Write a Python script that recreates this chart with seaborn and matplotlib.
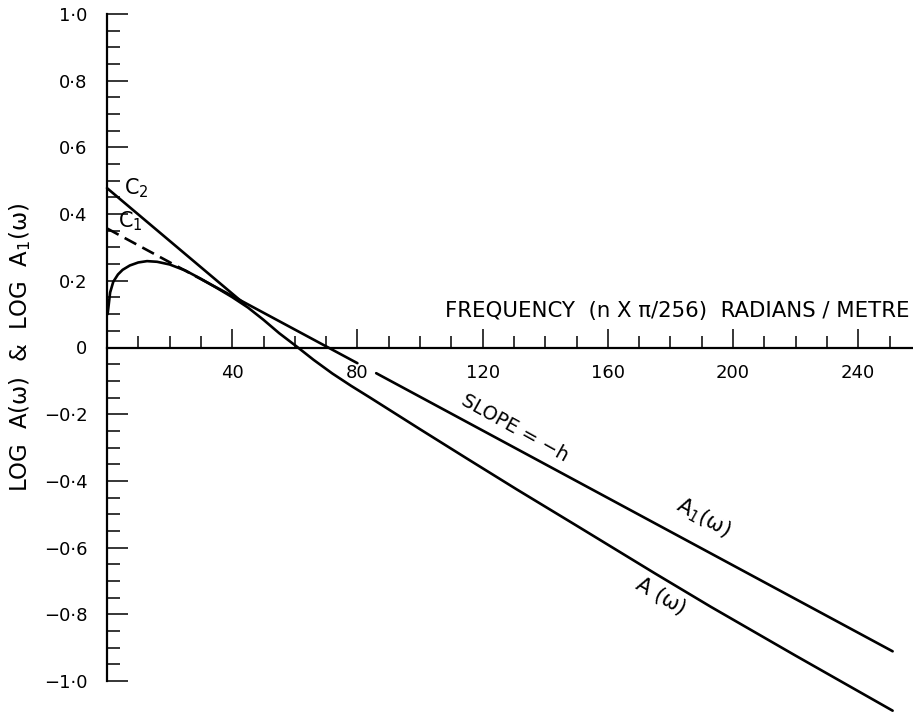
import numpy as np
import pandas as pd
import matplotlib
matplotlib.use("Agg")
import matplotlib.pyplot as plt
from matplotlib.ticker import FixedLocator
import seaborn as sns

# log A(omega): measured spectrum curve
freq_a = [0.2, 1.0, 2.0, 3.5, 5.0, 7.3, 10.0, 12.8, 16.0, 20.0, 25.0, 30.0, 35.0,
          40.0, 45.0, 50.0, 55.0, 61.0, 66.0, 72.0, 78.0, 84.0, 100.0, 115.0,
          131.0, 150.0, 175.0, 193.0, 220.0, 251.0]
log_a = [0.100, 0.165, 0.197, 0.219, 0.233, 0.246, 0.255, 0.259, 0.257, 0.249,
         0.231, 0.206, 0.179, 0.151, 0.120, 0.083, 0.043, 0.000, -0.037, -0.078,
         -0.115, -0.150, -0.245, -0.333, -0.426, -0.534, -0.677, -0.778, -0.924,
         -1.089]

# log A1(omega): straight line through C1 with slope -h (dashed near the origin)
a1_dash_x = [0.0, 31.0]
a1_dash_y = [0.357, 0.200]
a1_solid1_x = [31.0, 80.0]
a1_solid1_y = [0.200, -0.047]
a1_solid2_x = [86.0, 251.0]
a1_solid2_y = [-0.077, -0.911]

# tangent line from C2
c2_x = [0.0, 44.0]
c2_y = [0.478, 0.130]

x_major = [40, 80, 120, 160, 200, 240]
x_labels = ["40", "80", "120", "160", "200", "240"]
x_minor = [10, 20, 30, 50, 60, 70, 90, 100, 110, 130, 140, 150, 170, 180, 190,
           210, 220, 230, 250]
y_major = [1.0, 0.8, 0.6, 0.4, 0.2, 0.0, -0.2, -0.4, -0.6, -0.8, -1.0]
y_labels = ["1·0", "0·8", "0·6", "0·4", "0·2", "0", "\u22120·2", "\u22120·4",
            "\u22120·6", "\u22120·8", "\u22121·0"]
y_minor = [0.95, 0.9, 0.85, 0.75, 0.7, 0.65, 0.55, 0.5, 0.45, 0.35, 0.3, 0.25,
           0.15, 0.1, 0.05, -0.05, -0.1, -0.15, -0.25, -0.3, -0.35, -0.45, -0.5,
           -0.55, -0.65, -0.7, -0.75, -0.85, -0.9, -0.95]

sns.set_style("white")
plt.rcParams["font.family"] = ["DejaVu Sans"]
plt.rcParams["mathtext.fontset"] = "dejavusans"
plt.rcParams["text.color"] = "black"
plt.rcParams["xtick.color"] = "black"
plt.rcParams["ytick.color"] = "black"

W, H = 913, 712
fig = plt.figure(figsize=(W / 100, H / 100), dpi=100)
ax = fig.add_axes([107 / W, 1 - 681 / H, (W - 107) / W, (681 - 14) / H])

lw = 1.9
line_kws = dict(color="black", linewidth=lw, sort=False, estimator=None, ax=ax,
                clip_on=False)

sns.lineplot(x=freq_a, y=log_a, **line_kws)
sns.lineplot(x=c2_x, y=c2_y, **line_kws)
sns.lineplot(x=a1_dash_x, y=a1_dash_y, linestyle=(0, (5, 2.6)), **line_kws)
sns.lineplot(x=a1_solid1_x, y=a1_solid1_y, **line_kws)
sns.lineplot(x=a1_solid2_x, y=a1_solid2_y, **line_kws)

ax.set_xlim(0, (W - 107) / 3.13)
ax.set_ylim(-1.0, 1.0)

for side in ("top", "right"):
    ax.spines[side].set_visible(False)
ax.spines["bottom"].set_position(("data", 0))
for side in ("left", "bottom"):
    ax.spines[side].set_linewidth(1.6)
    ax.spines[side].set_color("black")

ax.set_xticks(x_major, x_labels)
ax.xaxis.set_minor_locator(FixedLocator(x_minor))
ax.set_yticks(y_major, y_labels)
ax.yaxis.set_minor_locator(FixedLocator(y_minor))

ax.tick_params(which="both", bottom=True, left=True, top=False, right=False)
ax.tick_params(axis="x", which="major", direction="in", length=14, width=1.1,
               pad=12, labelsize=13, colors="black")
ax.tick_params(axis="x", which="minor", direction="in", length=9, width=1.1,
               colors="black")
ax.tick_params(axis="y", which="major", direction="in", length=15, width=1.1,
               pad=14, labelsize=13, colors="black")
ax.tick_params(axis="y", which="minor", direction="in", length=9.5, width=1.1,
               colors="black")
ax.set_xlabel("")
ax.set_ylabel("")

# annotations
ax.text(5.5, 0.478, r"$\mathregular{C_2}$", fontsize=15, ha="left", va="center")
ax.text(3.5, 0.378, r"$\mathregular{C_1}$", fontsize=15, ha="left", va="center")
ax.text(256.5, 0.108, "FREQUENCY  (n X π/256)  RADIANS / METRE", fontsize=15.3,
        ha="right", va="center")
ax.text(130.4, -0.243, "SLOPE = \u2212h", fontsize=14, rotation=-29,
        rotation_mode="anchor", ha="center", va="center")
ax.text(190.4, -0.51, r"$\mathregular{A_1(\omega)}$", fontsize=15, rotation=-29,
        rotation_mode="anchor", ha="center", va="center")
ax.text(177.0, -0.745, r"$\mathregular{A\ (\omega)}$", fontsize=15, rotation=-30,
        rotation_mode="anchor", ha="center", va="center")

fig.text(20 / W, 1 - 347 / H, r"LOG  A(ω)  &  LOG  $\mathregular{A_1}$(ω)",
         fontsize=16.5, rotation=90, ha="center", va="center")

fig.savefig("out.png", dpi=100, facecolor="white")
